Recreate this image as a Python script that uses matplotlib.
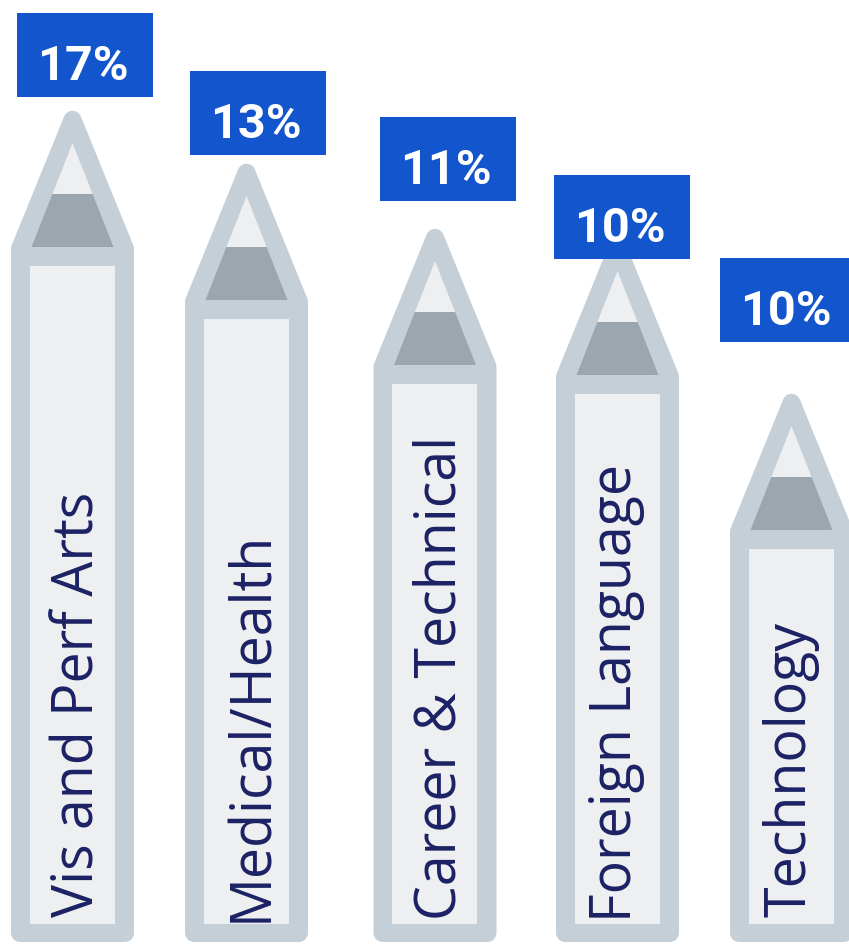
import matplotlib
matplotlib.use("Agg")
import matplotlib.pyplot as plt
from matplotlib.patches import Polygon, Rectangle
from matplotlib.textpath import TextPath
from matplotlib.font_manager import FontProperties
import numpy as np

# ---- data ----
categories = ["Vis and Perf Arts", "Medical/Health", "Career & Technical",
              "Foreign Language", "Technology"]
shares = [17, 13, 11, 10, 10]
share_labels = [f"{v}%" for v in shares]
# pencil length (to the tip), in figure pixel units
pencil_lengths = [833, 780, 715, 705, 550]

# ---- layout ----
W, H, DPI = 849, 945, 100
centers = [72.5, 246.5, 435, 617.5, 791.5]
box_left = [17, 190, 380, 554, 720]
box_bottom = [847, 789, 743, 685, 602]
box_w, box_h = 136, 84
pw = 123          # pencil outer width
border = 19       # outline thickness
tip_h = 138       # outer tip height
base_y = 2        # pencil bottom
corner_r = 9

C_OUT = "#C5CFD7"
C_IN = "#EDEFF1"
C_DARK = "#9BA6AF"
C_BOX = "#1255CC"
C_TXT = "#1B2163"

fig = plt.figure(figsize=(W / DPI, H / DPI), dpi=DPI)
ax = fig.add_axes([0, 0, 1, 1])
ax.set_xlim(0, W)
ax.set_ylim(0, H)
ax.axis("off")

px2pt = 72.0 / DPI


def inset(poly, r):
    """Inset a convex CCW polygon by distance r."""
    poly = np.asarray(poly, float)
    n = len(poly)
    lines = []
    for i in range(n):
        p, q = poly[i], poly[(i + 1) % n]
        d = q - p
        d /= np.linalg.norm(d)
        nrm = np.array([-d[1], d[0]])  # inward normal for CCW
        lines.append((p + nrm * r, d))
    out = []
    for i in range(n):
        p1, d1 = lines[i - 1]
        p2, d2 = lines[i]
        A = np.array([d1, -d2]).T
        t = np.linalg.solve(A, p2 - p1)
        out.append(p1 + d1 * t[0])
    return np.array(out)


CAT_FAMILY = "Open Sans"
cat_pt = 40
cat_fp = FontProperties(family=CAT_FAMILY, size=cat_pt)
cat_px = cat_pt / px2pt
lab_fp = FontProperties(family="Roboto", weight="bold", size=35)

half_angle = np.arctan((pw / 2) / tip_h)
apex_extra = corner_r / np.sin(half_angle) - corner_r

for i, (cat, lab, L) in enumerate(zip(categories, share_labels, pencil_lengths)):
    cx = centers[i]
    x0, x1 = cx - pw / 2, cx + pw / 2
    apex = base_y + L
    yb = apex - tip_h
    outer = [(x0, base_y), (x1, base_y), (x1, yb), (cx, apex + apex_extra), (x0, yb)]
    ins = inset(outer, corner_r)
    ax.add_patch(Polygon(ins, closed=True, facecolor=C_OUT, edgecolor=C_OUT,
                         linewidth=2 * corner_r * px2pt, joinstyle="round", zorder=1))
    # inner body
    ax.add_patch(Rectangle((x0 + border, base_y + border - 1),
                           pw - 2 * border, (yb - border) - (base_y + border - 1),
                           facecolor=C_IN, edgecolor="none", zorder=2))
    # inner tip: dark band + light point
    hw = pw / 2 - border - 1.5
    inner_apex = yb + 104
    band_top = yb + 53
    frac = (inner_apex - band_top) / (inner_apex - yb)
    ax.add_patch(Polygon([(cx - hw, yb), (cx + hw, yb),
                          (cx + hw * frac, band_top), (cx - hw * frac, band_top)],
                         closed=True, facecolor=C_DARK, edgecolor="none", zorder=2))
    ax.add_patch(Polygon([(cx - hw * frac, band_top), (cx + hw * frac, band_top),
                          (cx, inner_apex)],
                         closed=True, facecolor=C_IN, edgecolor="none", zorder=2))

    # category label, rotated, ink centred on the pencil
    tp = TextPath((0, 0), cat, size=cat_px, prop=FontProperties(family=CAT_FAMILY))
    bb = tp.get_extents()
    ink_mid = (bb.y0 + bb.y1) / 2
    ax.text(cx + ink_mid, 28 - bb.x0, cat, rotation=90, rotation_mode="anchor",
            ha="left", va="baseline", fontproperties=cat_fp, color=C_TXT, zorder=3)

    # value box
    ax.add_patch(Rectangle((box_left[i], box_bottom[i]), box_w, box_h,
                           facecolor=C_BOX, edgecolor="none", zorder=4))
    ax.text(box_left[i] + box_w / 2 - 2, box_bottom[i] + 18, lab,
            ha="center", va="baseline", fontproperties=lab_fp, color="white", zorder=5)

fig.savefig("out.png", dpi=DPI)
